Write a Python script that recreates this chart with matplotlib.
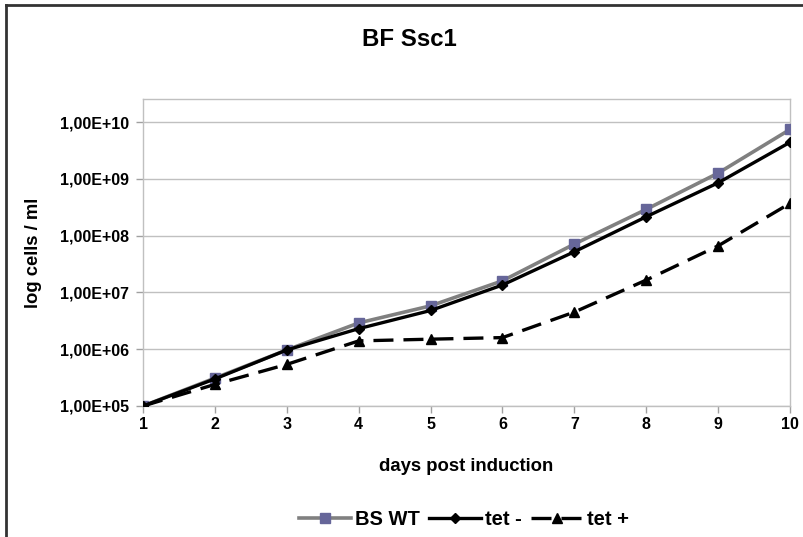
import matplotlib
matplotlib.use("Agg")
from matplotlib import pyplot as plt
from matplotlib.lines import Line2D
from matplotlib.ticker import FixedLocator, NullLocator

# data
days = [1, 2, 3, 4, 5, 6, 7, 8, 9, 10]
bs_wt = [1.0e5, 3.1e5, 9.7e5, 2.9e6, 5.8e6, 1.6e7, 7.1e7, 2.9e8, 1.26e9, 7.4e9]
tet_minus = [1.0e5, 3.0e5, 9.7e5, 2.3e6, 4.8e6, 1.35e7, 5.2e7, 2.15e8, 8.5e8, 4.4e9]
tet_plus = [1.0e5, 2.4e5, 5.4e5, 1.4e6, 1.5e6, 1.6e6, 4.5e6, 1.65e7, 6.6e7, 3.7e8]
y_ticks = [1e5, 1e6, 1e7, 1e8, 1e9, 1e10]
y_labels = ["1,00E+05", "1,00E+06", "1,00E+07", "1,00E+08", "1,00E+09", "1,00E+10"]

plt.rcParams['font.family'] = ['Liberation Sans', 'DejaVu Sans']
plt.rcParams['font.weight'] = 'bold'

fig = plt.figure(figsize=(8.04, 5.37), dpi=100)
ax = fig.add_axes([0.178, 0.244, 0.9826 - 0.178, 0.8156 - 0.244])

ax.plot(days, bs_wt, color="#808080", lw=2.6, marker="s", markersize=6.5,
        markerfacecolor="#666699", markeredgecolor="#666699", label="BS WT", zorder=3)
ax.plot(days, tet_minus, color="black", lw=2.4, marker="D", markersize=5,
        label="tet -", zorder=4)
ax.plot(days, tet_plus, color="black", lw=2.4, marker="^", markersize=6.5,
        dashes=(6, 3), label="tet +", zorder=5)

ax.set_yscale("log")
ax.set_xlim(1, 10)
ax.set_ylim(1e5, 10 ** 10.405)
ax.yaxis.set_major_locator(FixedLocator(y_ticks))
ax.yaxis.set_minor_locator(NullLocator())
ax.set_yticklabels(y_labels)
ax.set_xticks(days)
ax.tick_params(axis='both', labelsize=11.5, length=5, color="#a0a0a0", width=1)
ax.tick_params(axis='y', pad=5)
ax.tick_params(axis='x', pad=3)
ax.grid(axis='y', color="#c0c0c0", lw=1)
ax.set_axisbelow(True)
for s in ax.spines.values():
    s.set_color("#c0c0c0")
    s.set_linewidth(1)

ax.set_xlabel("days post induction", fontsize=13.3, fontweight='bold')
ax.xaxis.set_label_coords(0.5, -0.168)
ax.set_ylabel("log cells / ml", fontsize=13.3, fontweight='bold')
ax.yaxis.set_label_coords(-0.156, 0.5)
fig.text(0.509, 0.927, "BF Ssc1", ha="center", va="center", fontsize=17.3, fontweight='bold')

leg = fig.legend(loc="center", bbox_to_anchor=(0.577, 0.033), ncol=3, frameon=False,
                 fontsize=14.5, handlelength=2.58, columnspacing=0.45, handletextpad=0.2)

# chart border (top and left edges visible)
fig.add_artist(Line2D([0.0075, 1.0], [0.990, 0.990], transform=fig.transFigure,
                      color="#333333", lw=2))
fig.add_artist(Line2D([0.0075, 0.0075], [0.0, 0.990], transform=fig.transFigure,
                      color="#333333", lw=2))

fig.savefig("out.png", dpi=100)
